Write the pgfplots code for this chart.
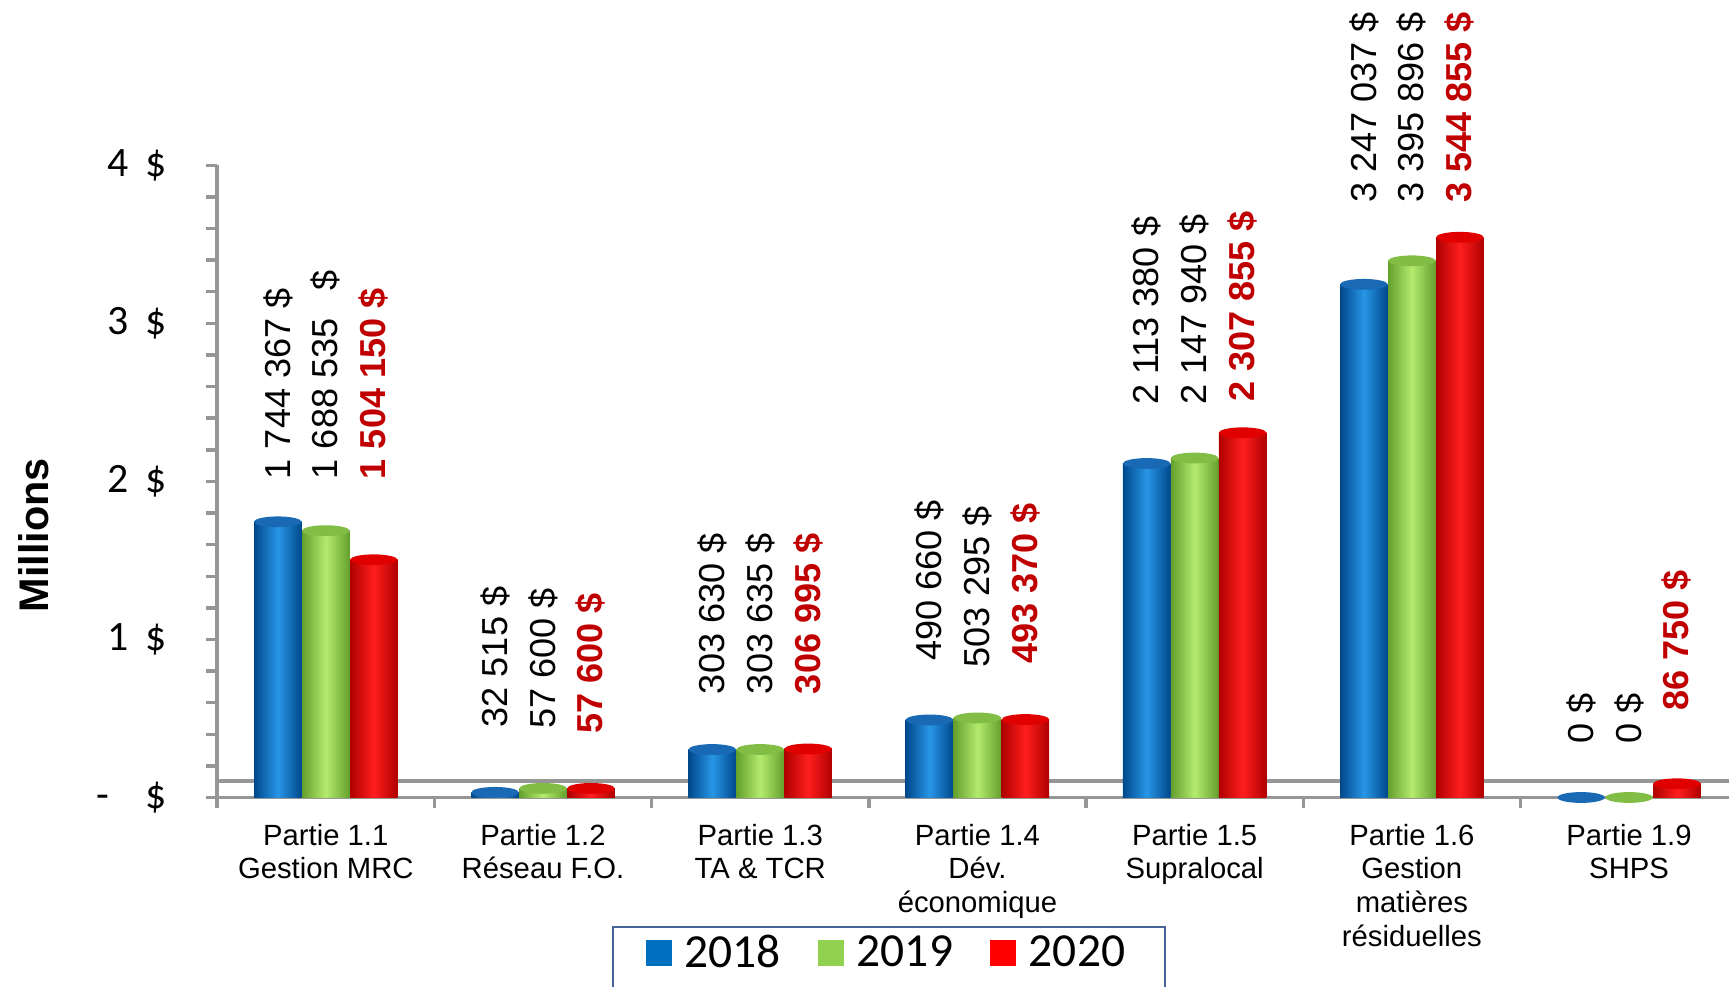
\documentclass[border=0pt]{standalone}
\usepackage{pgfplots}
\pgfplotsset{compat=1.18}
\usetikzlibrary{shapes.geometric}
\usepackage{fontspec}
\setmainfont{Liberation Sans}
\newfontfamily\carlito{Carlito}
\definecolor{bA}{RGB}{0,112,192}
\definecolor{bD}{RGB}{0,72,140}
\definecolor{bL}{RGB}{40,150,230}
\definecolor{bT}{RGB}{25,105,180}
\definecolor{gA}{RGB}{146,208,80}
\definecolor{gD}{RGB}{100,160,45}
\definecolor{gL}{RGB}{180,235,110}
\definecolor{gT}{RGB}{130,190,70}
\definecolor{rA}{RGB}{255,0,0}
\definecolor{rD}{RGB}{175,0,0}
\definecolor{rL}{RGB}{255,30,30}
\definecolor{rT}{RGB}{225,0,0}
\definecolor{lab}{RGB}{192,0,0}
\definecolor{axgray}{RGB}{150,150,150}
\definecolor{legbox}{RGB}{70,100,150}
\pgfplotsset{
  cyl/.style n args={4}{forget plot, draw=none, bar shift=#1, left color=#2, right color=#2, middle color=#3,
    nodes near coords={}, every node near coord/.style={ellipse, draw=none, fill=#4, minimum width=0.44cm,
    minimum height=0.1cm, inner sep=0pt, anchor=center, xshift=#1}},
  s18/.style={cyl={-0.444cm}{bD}{bL}{bT}},
  s19/.style={cyl={0cm}{gD}{gL}{gT}},
  s20/.style={cyl={0.444cm}{rD}{rL}{rT}},
}
\begin{document}
\begin{tikzpicture}
\begin{axis}[
  at={(0,0)}, anchor=south west,
  scale only axis, width=14.07cm, height=5.85cm,
  xmin=-0.5, xmax=6.5, ymin=0, ymax=4,
  clip=false,
  axis lines*=left,
  axis line style={draw=axgray, line width=0.9pt},
  tick style={draw=axgray, line width=0.9pt},
  tick align=outside,
  major tick length=0.1cm, minor tick length=0.1cm,
  xtick={-0.5,0.5,...,6.5},
  x tick label as interval,
  xticklabels={{Partie 1.1\\Gestion MRC},{Partie 1.2\\Réseau F.O.},{Partie 1.3\\TA \& TCR},{Partie 1.4\\Dév.\\économique},{Partie 1.5\\Supralocal},{Partie 1.6\\Gestion\\matières\\résiduelles},{Partie 1.9\\SHPS}},
  xticklabel style={align=center, font=\fontsize{7.7}{8.9}\selectfont, yshift=-0.02cm},
  ytick={0,1,2,3,4},
  minor ytick={0.2,0.4,0.6,0.8,1.2,1.4,1.6,1.8,2.2,2.4,2.6,2.8,3.2,3.4,3.6,3.8},
  yticklabels={{\makebox[1.3em][r]{-\hspace{0.45em}}\hspace{0.42em}\$},{\makebox[1.3em][r]{1}\hspace{0.42em}\$},{\makebox[1.3em][r]{2}\hspace{0.42em}\$},{\makebox[1.3em][r]{3}\hspace{0.42em}\$},{\makebox[1.3em][r]{4}\hspace{0.42em}\$}},
  yticklabel style={font=\carlito\fontsize{11}{12}\selectfont, xshift=-0.24cm},
  ybar, bar width=0.44cm,
  legend style={at={(0.442,-0.2034)}, anchor=north, legend columns=3,
    draw=legbox, line width=0.6pt, font=\carlito\fontsize{12.5}{15}\selectfont,
    inner xsep=0.3cm, inner ysep=0cm,
    nodes={text depth=0.35cm},
    /tikz/every odd column/.append style={column sep=0.05cm},
    /tikz/every even column/.append style={column sep=0.27cm}},
]
\draw[axgray, line width=0.9pt] (axis cs:-0.5,0.105) -- (axis cs:6.5,0.105);
\addlegendimage{legend image code/.code={\fill[bA] (0cm,0.05cm) rectangle (0.22cm,0.27cm);}}
\addlegendentry{2018}
\addlegendimage{legend image code/.code={\fill[gA] (0cm,0.05cm) rectangle (0.22cm,0.27cm);}}
\addlegendentry{2019}
\addlegendimage{legend image code/.code={\fill[rA] (0cm,0.05cm) rectangle (0.22cm,0.27cm);}}
\addlegendentry{2020}
% 2018
\addplot[s18] coordinates {(0,1.744367)};
\addplot[s18] coordinates {(1,0.032515)};
\addplot[s18] coordinates {(2,0.303630)};
\addplot[s18] coordinates {(3,0.490660)};
\addplot[s18] coordinates {(4,2.113380)};
\addplot[s18] coordinates {(5,3.247037)};
\addplot[s18] coordinates {(6,0)};
% 2019
\addplot[s19] coordinates {(0,1.688535)};
\addplot[s19] coordinates {(1,0.057600)};
\addplot[s19] coordinates {(2,0.303635)};
\addplot[s19] coordinates {(3,0.503295)};
\addplot[s19] coordinates {(4,2.147940)};
\addplot[s19] coordinates {(5,3.395896)};
\addplot[s19] coordinates {(6,0)};
% 2020
\addplot[s20] coordinates {(0,1.504150)};
\addplot[s20] coordinates {(1,0.057600)};
\addplot[s20] coordinates {(2,0.306995)};
\addplot[s20] coordinates {(3,0.493370)};
\addplot[s20] coordinates {(4,2.307855)};
\addplot[s20] coordinates {(5,3.544855)};
\addplot[s20] coordinates {(6,0.086750)};
% value labels
\tikzset{vl/.style={rotate=90, anchor=west, inner sep=0pt, font=\fontsize{9.5}{11}\selectfont},
         vr/.style={vl, text=lab, font=\bfseries\fontsize{9.5}{11}\selectfont}}
\node[vl] at (axis cs:-0.22,2.01) {1 744 367 \$};
\node[vl] at (axis cs:0,2.01) {1 688 535 \hspace{0.5em}\$};
\node[vr] at (axis cs:0.22,2.01) {1 504 150 \$};
\node[vl] at (axis cs:0.78,0.44) {32 515 \$};
\node[vl] at (axis cs:1,0.43) {57 600 \$};
\node[vr] at (axis cs:1.22,0.40) {57 600 \$};
\node[vl] at (axis cs:1.78,0.65) {303 630 \$};
\node[vl] at (axis cs:2,0.65) {303 635 \$};
\node[vr] at (axis cs:2.22,0.65) {306 995 \$};
\node[vl] at (axis cs:2.78,0.86) {490 660 \$};
\node[vl] at (axis cs:3,0.82) {503 295 \$};
\node[vr] at (axis cs:3.22,0.84) {493 370 \$};
\node[vl] at (axis cs:3.78,2.48) {2 113 380 \$};
\node[vl] at (axis cs:4,2.48) {2 147 940 \$};
\node[vr] at (axis cs:4.22,2.50) {2 307 855 \$};
\node[vl] at (axis cs:4.78,3.76) {3 247 037 \$};
\node[vl] at (axis cs:5,3.76) {3 395 896 \$};
\node[vr] at (axis cs:5.22,3.76) {3 544 855 \$};
\node[vl] at (axis cs:5.78,0.335) {0 \$};
\node[vl] at (axis cs:6,0.335) {0 \$};
\node[vr] at (axis cs:6.22,0.545) {86 750 \$};
\node[rotate=90, font=\bfseries\fontsize{10.9}{12}\selectfont] at (rel axis cs:-0.1208,0.415) {Millions};
\end{axis}
\pgfresetboundingbox
\path[use as bounding box] (-2.01cm,-1.75cm) rectangle (13.99cm,7.38cm);
\end{tikzpicture}
\end{document}
